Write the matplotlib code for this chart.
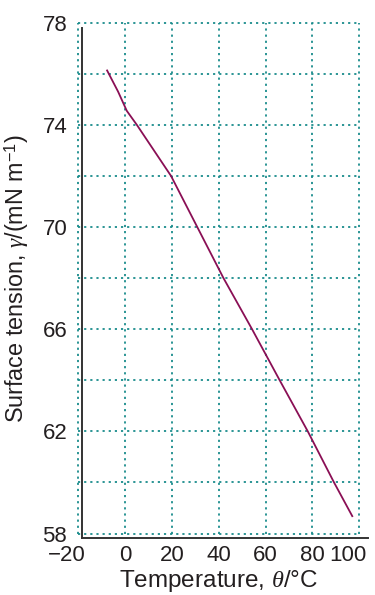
import matplotlib
matplotlib.use("Agg")
import matplotlib.pyplot as plt
from matplotlib.transforms import ScaledTranslation

plt.rcParams['font.family'] = ['Liberation Sans', 'DejaVu Sans']
plt.rcParams['mathtext.fontset'] = 'custom'
plt.rcParams['mathtext.rm'] = 'Liberation Sans'
plt.rcParams['mathtext.it'] = 'Liberation Serif:italic'

# Data
temperature = [-7.7, -3.0, 0.7, 5.0, 19.6, 30.8, 42.0, 54.2, 66.0, 78.0, 89.2, 97.0]
tension = [76.13, 75.3, 74.55, 74.0, 72.0, 70.0, 68.0, 66.0, 64.0, 62.0, 60.0, 58.68]

xticks = [-20, 0, 20, 40, 60, 80, 100]
xticklabels = ['\u221220', '0', '20', '40', '60', '80', '100']
yticks_label = [58, 62, 66, 70, 74, 78]
ygrid = [58, 60, 62, 64, 66, 68, 70, 72, 74, 76, 78]

W, H = 375, 595
fig = plt.figure(figsize=(W / 100, H / 100), dpi=100)
left, right, top, bottom = 78.3, 359.3, 22.7, 533.5
ax = fig.add_axes([left / W, 1 - bottom / H, (right - left) / W, (bottom - top) / H])
ax.set_xlim(-20, 100)
ax.set_ylim(58, 78)

grid_color = '#1a8c8c'
for gx in xticks:
    ax.axvline(gx, color=grid_color, lw=1.3, ls=(0, (1.2, 2.2)), clip_on=False, zorder=1)
for gy in ygrid:
    ax.axhline(gy, color=grid_color, lw=1.3, ls=(0, (1.2, 2.2)), clip_on=False, zorder=1)

ax.plot(temperature, tension, color='#8a0f55', lw=1.3, zorder=3)

for s in ax.spines.values():
    s.set_visible(False)

# offset axis lines
xl = (82.3 - left) / (right - left)
yb = (bottom - 538.3) / (bottom - top)
yt = (bottom - 28.3) / (bottom - top)
xr = (367.7 - left) / (right - left)
ax.plot([xl, xl], [yb, yt], transform=ax.transAxes, color='#333333', lw=1.4, clip_on=False, zorder=4)
ax.plot([xl, xr], [yb, yb], transform=ax.transAxes, color='#333333', lw=1.4, clip_on=False, zorder=4)

ax.set_xticks(xticks)
ax.set_xticklabels(xticklabels)
ax.set_yticks(yticks_label)
ax.tick_params(length=0, labelsize=16, colors='#231f20')
ax.tick_params(axis='x', pad=8)
ax.tick_params(axis='y', pad=8)

labels = ax.get_xticklabels()
shift = ScaledTranslation(-0.12, 0, fig.dpi_scale_trans)
labels[0].set_transform(labels[0].get_transform() + shift)
labels[-1].set_transform(labels[-1].get_transform() + ScaledTranslation(-0.11, 0, fig.dpi_scale_trans))

ax.set_xlabel(r'Temperature, $\theta$/°C', fontsize=17.5, color='#231f20', labelpad=2)
ax.set_ylabel(r'Surface tension, $\gamma$/(mN m$^{-1}$)', fontsize=16.8, color='#231f20', labelpad=8)

fig.savefig('out.png', dpi=100)
